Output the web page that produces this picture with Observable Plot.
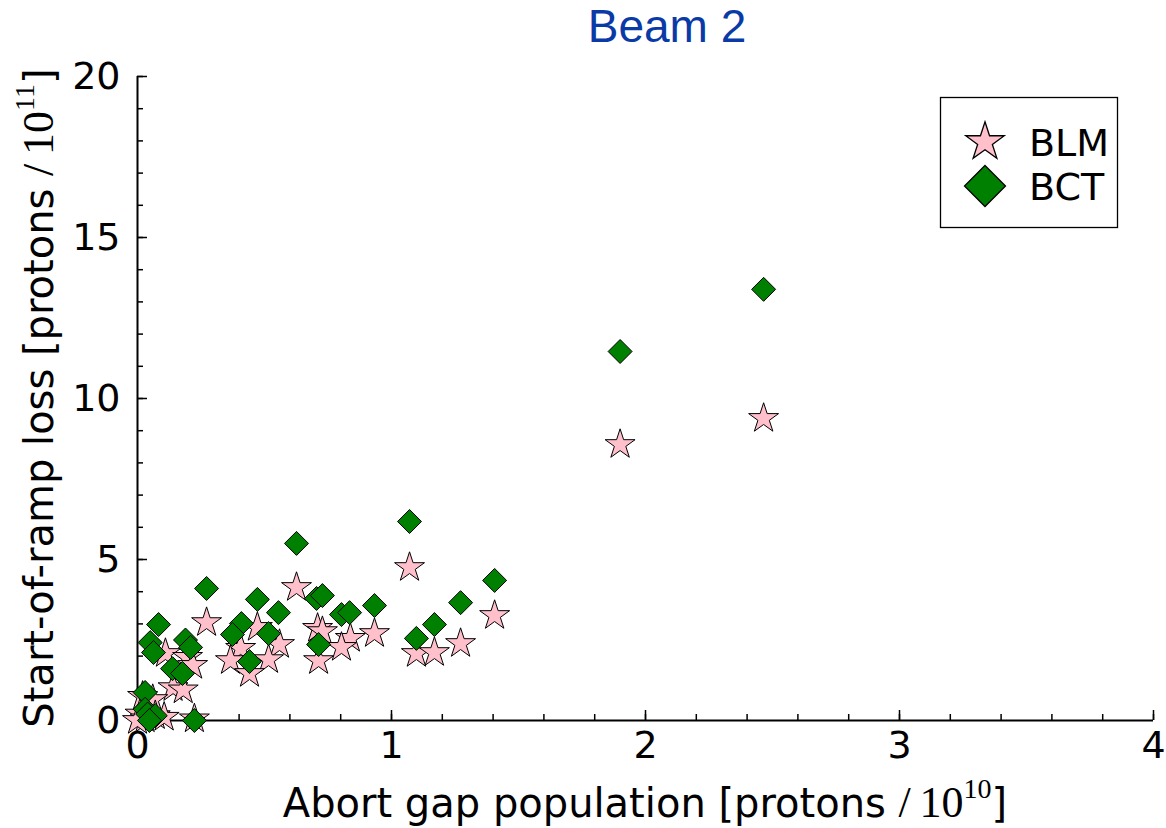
<!DOCTYPE html>
<html>
<head>
<meta charset="utf-8">
<script src="https://cdn.jsdelivr.net/npm/d3@7"></script>
<script src="https://cdn.jsdelivr.net/npm/@observablehq/plot@0.6"></script>
<style>
  body { margin: 0; background: #fff; }
  #chart { width: 1166px; height: 828px; }
</style>
</head>
<body>
<div id="chart"></div>
<script>
// Beam 2: start-of-ramp loss vs abort gap population, per fill
const blmX = [2.465, 1.90, 1.071, 0.626, 1.406, 0.272, 0.472, 0.709, 0.728, 0.933, 0.838, 0.803, 0.559,
              0.406, 0.366, 0.516, 0.441, 0.713, 1.098, 1.169, 1.272, 0.11, 0.197, 0.217, 0.14, 0.18,
              0.02, 0.06, 0.224, 0.01, 0.07, 0.105, 0.03, 0.0];
const blmY = [9.38, 8.57, 4.75, 4.13, 3.26, 3.04, 2.89, 2.86, 2.76, 2.70, 2.55, 2.27, 2.36,
              2.24, 1.86, 1.89, 1.46, 1.86, 2.08, 2.11, 2.39, 2.08, 1.96, 1.71, 1.02, 0.95,
              0.75, 0.65, 0.05, 0.2, 0.15, 0.1, 0.05, 0.0];

const bctX = [2.465, 1.90, 1.071, 0.626, 1.406, 0.272, 0.705, 0.728, 0.472, 1.272, 0.933, 0.555, 0.803,
              0.835, 0.083, 0.409, 0.374, 1.169, 0.516, 1.098, 0.713, 0.05, 0.063, 0.189, 0.209,
              0.138, 0.177, 0.441, 0.03, 0.03, 0.04, 0.07, 0.224, 0.047];
const bctY = [13.39, 11.46, 6.18, 5.50, 4.35, 4.10, 3.79, 3.88, 3.76, 3.66, 3.57, 3.35, 3.29,
              3.35, 2.98, 3.01, 2.67, 2.98, 2.70, 2.55, 2.36, 2.42, 2.11, 2.50, 2.27,
              1.61, 1.46, 1.83, 0.87, 0.35, 0.2, 0.15, 0.0, 0.0];

const seriesNames = ["BLM", "BCT"];
const seriesFill = ["pink", "green"];

const xMajorTicks = [0, 1, 2, 3, 4];
const yMajorTicks = [0, 5, 10, 15, 20];
const xMinorTicks = d3.range(0, 4.001, 0.2);
const yMinorTicks = d3.range(0, 20.001, 1);

const blm = blmX.map((x, i) => ({x, y: blmY[i]}));
const bct = bctX.map((x, i) => ({x, y: bctY[i]}));

const sans = "DejaVu Sans, sans-serif";
const serif = "Liberation Serif, DejaVu Serif, serif";

const chart = Plot.plot({
  width: 1166,
  height: 828,
  marginLeft: 137,
  marginRight: 13,
  marginTop: 76,
  marginBottom: 108,
  style: {fontFamily: sans, fontSize: "38px", color: "black", background: "white"},
  x: {domain: [0, 4]},
  y: {domain: [0, 20]},
  marks: [
    // inward-pointing minor and major ticks
    Plot.axisX(xMinorTicks, {tickSize: -6, tickFormat: () => "", label: null, strokeWidth: 1.5}),
    Plot.axisY(yMinorTicks, {tickSize: -6, tickFormat: () => "", label: null, strokeWidth: 1.5}),
    Plot.axisX(xMajorTicks, {tickSize: -10, tickFormat: () => "", label: null, strokeWidth: 1.5}),
    Plot.axisY(yMajorTicks, {tickSize: -10, tickFormat: () => "", label: null, strokeWidth: 1.5}),
    // tick labels
    Plot.axisX(xMajorTicks, {tickSize: 0, tickPadding: 11, fontSize: 38, label: null, tickFormat: d3.format("d")}),
    Plot.axisY(yMajorTicks, {tickSize: 0, tickPadding: 17, fontSize: 38, label: null, tickFormat: d3.format("d")}),
    // axis lines
    Plot.ruleY([0], {stroke: "black", strokeWidth: 2}),
    Plot.ruleX([0], {stroke: "black", strokeWidth: 2}),
    // data
    Plot.dot(blm, {x: "x", y: "y", symbol: "star", r: 9.4, fill: seriesFill[0], stroke: "black", strokeWidth: 1}),
    Plot.dot(bct, {x: "x", y: "y", symbol: "diamond2", r: 10.8, fill: seriesFill[1], stroke: "black", strokeWidth: 1})
  ]
});

document.getElementById("chart").appendChild(chart);
const svg = d3.select(chart);

// title
svg.append("text")
  .attr("x", 667).attr("y", 42)
  .attr("text-anchor", "middle")
  .attr("font-family", "Liberation Sans, Arial, sans-serif")
  .attr("font-size", 46)
  .attr("fill", "#0a3aa6")
  .text("Beam 2");

// axis titles with a math-set unit
function unitLabel(sel, prefix, exponent) {
  sel.append("tspan").attr("font-family", sans).text(prefix);
  sel.append("tspan").attr("font-family", serif).attr("font-size", 44).text("/\u2009");
  sel.append("tspan").attr("font-family", serif).attr("font-size", 44).text("10");
  sel.append("tspan").attr("font-family", serif).attr("font-size", 28).attr("dy", -19).text(exponent);
  sel.append("tspan").attr("font-family", sans).attr("dy", 19).text("]");
}

const xTitle = svg.append("text")
  .attr("x", 645).attr("y", 817)
  .attr("text-anchor", "middle")
  .attr("font-size", 40)
  .attr("fill", "black");
unitLabel(xTitle, "Abort gap population [protons ", "10");

const yTitle = svg.append("text")
  .attr("transform", "translate(53,398) rotate(-90)")
  .attr("text-anchor", "middle")
  .attr("font-size", 40)
  .attr("fill", "black");
unitLabel(yTitle, "Start-of-ramp loss [protons ", "11");

// legend
const legend = svg.append("g");
legend.append("rect")
  .attr("x", 940.5).attr("y", 97.5)
  .attr("width", 177).attr("height", 130)
  .attr("fill", "white").attr("stroke", "black").attr("stroke-width", 1.3);
const legendSymbols = [d3.symbol(d3.symbolStar, 460)(), d3.symbol(d3.symbolDiamond2, 1070)()];
const legendRows = [142, 186];
seriesNames.forEach((name, i) => {
  legend.append("path")
    .attr("d", legendSymbols[i])
    .attr("transform", `translate(985,${legendRows[i]})`)
    .attr("fill", seriesFill[i]).attr("stroke", "black").attr("stroke-width", 1.3);
  legend.append("text")
    .attr("x", 1029).attr("y", legendRows[i] + 14)
    .attr("text-anchor", "start")
    .attr("font-family", sans).attr("font-size", 38)
    .attr("fill", "black")
    .text(name);
});
</script>
</body>
</html>
